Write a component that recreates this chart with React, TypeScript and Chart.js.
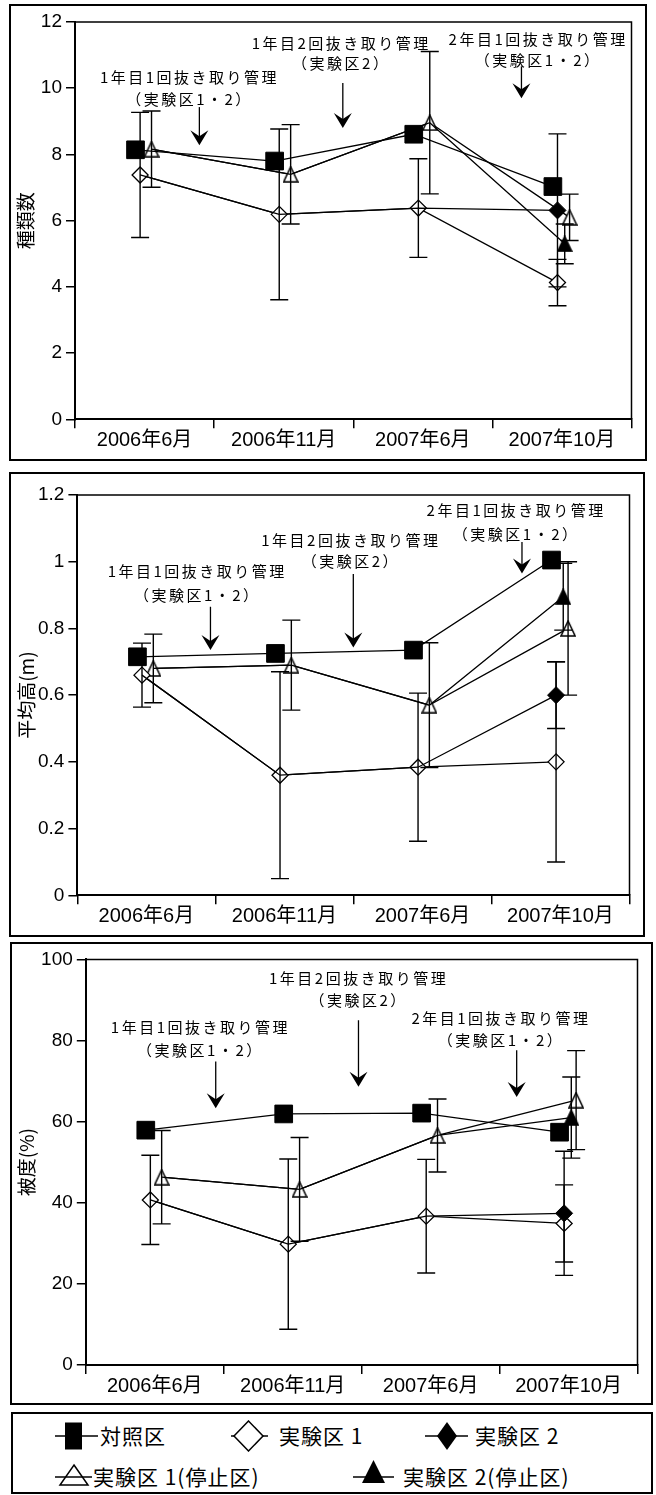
import React, { useEffect, useRef } from 'react';
import { Chart, registerables } from 'chart.js';

Chart.register(...registerables);

// ---------- data ----------
const CATEGORIES = ['2006年6月', '2006年11月', '2007年6月', '2007年10月'];
const SERIES_LABELS = ['対照区', '実験区 1', '実験区 2', '実験区 1(停止区)', '実験区 2(停止区)'];

// 種類数
const SPECIES_CONTROL = [8.14, 7.8, 8.61, 7.03];
const SPECIES_EXP1 = [7.38, 6.19, 6.38, 4.13];
const SPECIES_EXP1_ERR = [1.89, 2.58, 1.49, 0.7];
const SPECIES_EXP2 = [7.38, 6.19, 6.38, 6.31];
const SPECIES_EXP2_ERR = [null, null, null, 2.31];
const SPECIES_STOP1 = [8.16, 7.4, 8.96, 6.1];
const SPECIES_STOP1_ERR = [1.15, 1.5, 2.15, 0.7];
const SPECIES_STOP2 = [8.16, 7.4, 8.96, 5.3];
const SPECIES_STOP2_ERR = [null, null, null, 0.6];
const SPECIES_Y_TICKS = [0, 2, 4, 6, 8, 10, 12];
const SPECIES_Y_LABELS = ['0', '2', '4', '6', '8', '10', '12'];

// 平均高(m)
const HEIGHT_CONTROL = [0.715, 0.725, 0.735, 1.005];
const HEIGHT_EXP1 = [0.66, 0.36, 0.384, 0.4];
const HEIGHT_EXP1_ERR = [0.096, 0.31, 0.222, 0.3];
const HEIGHT_EXP2 = [0.66, 0.36, 0.384, 0.6];
const HEIGHT_EXP2_ERR = [null, null, null, 0.1];
const HEIGHT_STOP1 = [0.68, 0.69, 0.57, 0.8];
const HEIGHT_STOP1_ERR = [0.103, 0.135, 0.187, 0.2];
const HEIGHT_STOP2 = [0.68, 0.69, 0.57, 0.895];
const HEIGHT_STOP2_ERR = [null, null, null, 0.1];
const HEIGHT_Y_TICKS = [0, 0.2, 0.4, 0.6, 0.8, 1, 1.2];
const HEIGHT_Y_LABELS = ['0', '0.2', '0.4', '0.6', '0.8', '1', '1.2'];

// 被度(%)
const COVER_CONTROL = [57.9, 61.9, 62.1, 57.4];
const COVER_EXP1 = [40.7, 29.8, 36.7, 34.9];
const COVER_EXP1_ERR = [11, 21, 14, 9.5];
const COVER_EXP2 = [40.7, 29.8, 36.7, 37.4];
const COVER_EXP2_ERR = [null, null, null, 15.3];
const COVER_STOP1 = [46.3, 43.3, 56.6, 65.3];
const COVER_STOP1_ERR = [11.5, 12.8, 9, 12.2];
const COVER_STOP2 = [46.3, 43.3, 56.6, 61.0];
const COVER_STOP2_ERR = [null, null, null, 10];
const COVER_Y_TICKS = [0, 20, 40, 60, 80, 100];
const COVER_Y_LABELS = ['0', '20', '40', '60', '80', '100'];

const NOTE_TEXTS = [
  ['1年目1回抜き取り管理', '（実験区1・2）'],
  ['1年目2回抜き取り管理', '（実験区2）'],
  ['2年目1回抜き取り管理', '（実験区1・2）'],
];

// ---------- placement / style (not data) ----------
// offset of each series inside its category band (category units)
const SERIES_OFFSETS = [
  [-0.065, -0.065, -0.065, -0.065],
  [-0.032, -0.032, -0.032, -0.032],
  [-0.032, -0.032, -0.032, -0.032],
  [0.05, 0.05, 0.05, 0.055],
  [0.05, 0.05, 0.05, 0.02],
];
const DRAW_ORDER = [0, 3, 1, 4, 2];

const SPECIES_NOTES_POS = [
  { x: 0.823, y1: 10.34, y2: 9.67, ax: 0.894, top: 9.43, tip: 8.28 },
  { x: 1.914, y1: 11.37, y2: 10.76, ax: 1.925, top: 10.16, tip: 8.8 },
  { x: 3.329, y1: 11.49, y2: 10.85, ax: 3.209, top: 10.66, tip: 9.7 },
];
const HEIGHT_NOTES_POS = [
  { x: 0.868, y1: 0.97, y2: 0.9, ax: 0.964, top: 0.865, tip: 0.735 },
  { x: 1.981, y1: 1.065, y2: 1.0, ax: 1.999, top: 0.963, tip: 0.743 },
  { x: 3.179, y1: 1.153, y2: 1.083, ax: 3.221, top: 1.059, tip: 0.965 },
];
const COVER_NOTES_POS = [
  { x: 0.831, y1: 83.2, y2: 77.6, ax: 0.942, top: 74.8, tip: 63.3 },
  { x: 1.978, y1: 95.3, y2: 89.8, ax: 1.977, top: 85.0, tip: 68.6 },
  { x: 3.01, y1: 85.5, y2: 80.1, ax: 3.124, top: 77.6, tip: 66.1 },
];

const FONT = '"Liberation Sans", "Noto Sans CJK JP", sans-serif';
const CJK = '"Noto Sans CJK JP", sans-serif';

type Series = { values: number[]; errors: (number | null)[] };
interface PanelCfg {
  box: { left: number; top: number; width: number; height: number };
  pad: { left: number; top: number; right: number; bottom: number };
  yWidth: number;
  xHeight: number;
  yTitle: string;
  yMax: number;
  yTicks: number[];
  yLabels: string[];
  series: Series[];
  notes: { x: number; y1: number; y2: number; ax: number; top: number; tip: number }[];
}

const PANELS: PanelCfg[] = [
  {
    box: { left: 9, top: 4, width: 638, height: 457 },
    pad: { left: 3.6, top: 16, right: 1.7, bottom: 4.7 },
    yWidth: 60.4,
    xHeight: 35,
    yTitle: '種類数',
    yMax: 12,
    yTicks: SPECIES_Y_TICKS,
    yLabels: SPECIES_Y_LABELS,
    series: [
      { values: SPECIES_CONTROL, errors: [null, null, null, null] },
      { values: SPECIES_EXP1, errors: SPECIES_EXP1_ERR },
      { values: SPECIES_EXP2, errors: SPECIES_EXP2_ERR },
      { values: SPECIES_STOP1, errors: SPECIES_STOP1_ERR },
      { values: SPECIES_STOP2, errors: SPECIES_STOP2_ERR },
    ],
    notes: SPECIES_NOTES_POS,
  },
  {
    box: { left: 9, top: 472, width: 636, height: 465 },
    pad: { left: 4.6, top: 21, right: 11.2, bottom: 4.7 },
    yWidth: 61.8,
    xHeight: 35,
    yTitle: '平均高(m)',
    yMax: 1.2,
    yTicks: HEIGHT_Y_TICKS,
    yLabels: HEIGHT_Y_LABELS,
    series: [
      { values: HEIGHT_CONTROL, errors: [null, null, null, null] },
      { values: HEIGHT_EXP1, errors: HEIGHT_EXP1_ERR },
      { values: HEIGHT_EXP2, errors: HEIGHT_EXP2_ERR },
      { values: HEIGHT_STOP1, errors: HEIGHT_STOP1_ERR },
      { values: HEIGHT_STOP2, errors: HEIGHT_STOP2_ERR },
    ],
    notes: HEIGHT_NOTES_POS,
  },
  {
    box: { left: 10, top: 942, width: 643, height: 463 },
    pad: { left: 3.6, top: 15.3, right: 10.8, bottom: 4 },
    yWidth: 70.2,
    xHeight: 34,
    yTitle: '被度(%)',
    yMax: 100,
    yTicks: COVER_Y_TICKS,
    yLabels: COVER_Y_LABELS,
    series: [
      { values: COVER_CONTROL, errors: [null, null, null, null] },
      { values: COVER_EXP1, errors: COVER_EXP1_ERR },
      { values: COVER_EXP2, errors: COVER_EXP2_ERR },
      { values: COVER_STOP1, errors: COVER_STOP1_ERR },
      { values: COVER_STOP2, errors: COVER_STOP2_ERR },
    ],
    notes: COVER_NOTES_POS,
  },
];

function makeTriangle(filled: boolean) {
  const c = document.createElement('canvas');
  c.width = 16;
  c.height = 17;
  const g = c.getContext('2d')!;
  g.beginPath();
  g.moveTo(8, 1);
  g.lineTo(15, 16);
  g.lineTo(1, 16);
  g.closePath();
  g.fillStyle = filled ? '#000' : '#fff';
  g.fill();
  g.lineWidth = 1.5;
  g.lineJoin = 'miter';
  g.strokeStyle = '#000';
  g.stroke();
  return c;
}

function Panel({ cfg }: { cfg: PanelCfg }) {
  const ref = useRef<HTMLCanvasElement>(null);
  useEffect(() => {
    const canvas = ref.current!;
    const openTri = makeTriangle(false);
    const filledTri = makeTriangle(true);
    const pointOpts: any[] = [
      { pointStyle: 'rect', pointRadius: 12.5, pointBackgroundColor: '#000', pointBorderColor: '#000', pointBorderWidth: 1 },
      { pointStyle: 'rectRot', pointRadius: 8, pointBackgroundColor: '#fff', pointBorderColor: '#000', pointBorderWidth: 1.3 },
      { pointStyle: 'rectRot', pointRadius: [0, 0, 0, 8.5], pointBackgroundColor: '#000', pointBorderColor: '#000', pointBorderWidth: 1 },
      { pointStyle: openTri, pointRadius: 7 },
      { pointStyle: filledTri, pointRadius: [0, 0, 0, 7] },
    ];
    const datasets = cfg.series.map((s, si) => ({
      label: SERIES_LABELS[si],
      data: s.values.map((v, i) => ({ x: i + 0.5 + SERIES_OFFSETS[si][i], y: v })),
      errors: s.errors,
      xAxisID: 'xl',
      yAxisID: 'y',
      borderColor: '#000',
      borderWidth: 1.3,
      tension: 0,
      fill: false,
      pointHoverRadius: 0,
      order: DRAW_ORDER[si],
      ...pointOpts[si],
    }));

    const framePlugin = {
      id: 'frame',
      beforeDatasetsDraw(chart: any) {
        const { ctx, chartArea: a } = chart;
        ctx.save();
        ctx.strokeStyle = '#000';
        ctx.lineWidth = 1.5;
        ctx.beginPath();
        ctx.moveTo(a.left, a.top);
        ctx.lineTo(a.right, a.top);
        ctx.lineTo(a.right, a.bottom);
        ctx.stroke();
        ctx.restore();
      },
    };

    const errorPlugin = {
      id: 'errorBars',
      afterDatasetsDraw(chart: any) {
        const { ctx } = chart;
        const ys = chart.scales.y;
        ctx.save();
        ctx.strokeStyle = '#000';
        ctx.lineWidth = 1.4;
        chart.data.datasets.forEach((ds: any, di: number) => {
          const meta = chart.getDatasetMeta(di);
          (ds.errors || []).forEach((e: number | null, i: number) => {
            if (e == null) return;
            const v = ds.data[i].y;
            const x = meta.data[i].x;
            const yt = ys.getPixelForValue(v + e);
            const yb = ys.getPixelForValue(v - e);
            ctx.beginPath();
            ctx.moveTo(x, yt);
            ctx.lineTo(x, yb);
            ctx.moveTo(x - 9, yt);
            ctx.lineTo(x + 9, yt);
            ctx.moveTo(x - 9, yb);
            ctx.lineTo(x + 9, yb);
            ctx.stroke();
          });
        });
        ctx.restore();
      },
    };

    const notesPlugin = {
      id: 'notes',
      afterDraw(chart: any) {
        const { ctx } = chart;
        const xs = chart.scales.xl;
        const ys = chart.scales.y;
        ctx.save();
        ctx.fillStyle = '#000';
        ctx.strokeStyle = '#000';
        cfg.notes.forEach((n, k) => {
          ctx.font = `15px ${CJK}`;
          ctx.textAlign = 'center';
          ctx.textBaseline = 'middle';
          (ctx as any).letterSpacing = '2.5px';
          const tx = xs.getPixelForValue(n.x);
          ctx.fillText(NOTE_TEXTS[k][0], tx, ys.getPixelForValue(n.y1));
          ctx.fillText(NOTE_TEXTS[k][1], tx, ys.getPixelForValue(n.y2));
          (ctx as any).letterSpacing = '0px';
          const ax = xs.getPixelForValue(n.ax);
          const top = ys.getPixelForValue(n.top);
          const tip = ys.getPixelForValue(n.tip);
          ctx.lineWidth = 1.3;
          ctx.beginPath();
          ctx.moveTo(ax, top);
          ctx.lineTo(ax, tip - 8);
          ctx.stroke();
          ctx.beginPath();
          ctx.moveTo(ax, tip);
          ctx.lineTo(ax - 9, tip - 15);
          ctx.lineTo(ax, tip - 9);
          ctx.lineTo(ax + 9, tip - 15);
          ctx.closePath();
          ctx.fill();
        });
        ctx.restore();
      },
    };

    const chart = new Chart(canvas, {
      type: 'line',
      data: { labels: CATEGORIES, datasets: datasets as any },
      options: {
        animation: false,
        responsive: false,
        maintainAspectRatio: false,
        events: [],
        layout: { padding: cfg.pad },
        plugins: { legend: { display: false }, tooltip: { enabled: false } },
        scales: {
          x: {
            type: 'category',
            labels: CATEGORIES,
            position: 'bottom',
            offset: true,
            grid: { offset: true, drawOnChartArea: false, drawTicks: true, tickLength: 9, color: '#000', lineWidth: 1.5 },
            border: { display: true, color: '#000', width: 2 },
            ticks: { color: '#000', font: { family: FONT, size: 20 }, padding: 0, maxRotation: 0, minRotation: 0, autoSkip: false },
            afterFit: (s: any) => { s.height = cfg.xHeight; },
          },
          xl: { type: 'linear', display: false, min: 0, max: 4 },
          y: {
            type: 'linear',
            position: 'left',
            min: 0,
            max: cfg.yMax,
            afterBuildTicks: (s: any) => { s.ticks = cfg.yTicks.map((v) => ({ value: v })); },
            ticks: {
              color: '#000',
              font: { family: FONT, size: 19 },
              padding: 4,
              callback: (_v: any, i: number) => cfg.yLabels[i],
            },
            grid: { drawOnChartArea: false, drawTicks: true, tickLength: 9, color: '#000', lineWidth: 1.5 },
            border: { display: true, color: '#000', width: 2 },
            title: { display: true, text: cfg.yTitle, color: '#000', font: { family: CJK, size: 19 }, padding: 0 },
            afterFit: (s: any) => { s.width = cfg.yWidth; },
          },
        } as any,
      },
      plugins: [framePlugin, errorPlugin, notesPlugin],
    });
    return () => chart.destroy();
  }, [cfg]);

  const { box } = cfg;
  return (
    <div
      style={{
        position: 'absolute',
        left: box.left,
        top: box.top,
        width: box.width,
        height: box.height,
        border: '2px solid #000',
        boxSizing: 'border-box',
        background: '#fff',
      }}
    >
      <canvas ref={ref} width={box.width - 4} height={box.height - 4} style={{ display: 'block' }} />
    </div>
  );
}

const legendText: React.CSSProperties = {
  position: 'absolute',
  fontFamily: CJK,
  fontSize: 21,
  lineHeight: '26px',
  letterSpacing: '1px',
  whiteSpace: 'pre',
  color: '#000',
};

function Legend() {
  return (
    <div
      style={{
        position: 'absolute',
        left: 11,
        top: 1412,
        width: 642,
        height: 82,
        border: '2px solid #000',
        boxSizing: 'border-box',
        background: '#fff',
      }}
    >
      <svg style={{ position: 'absolute', left: 42, top: 7 }} width={43} height={30}>
        <line x1={0} y1={15} x2={43} y2={15} stroke="#000" strokeWidth={1.5} />
        <rect x={10} y={1.5} width={17} height={27} fill="#000" />
      </svg>
      <span style={{ ...legendText, left: 87, top: 21 - 13 }}>{SERIES_LABELS[0]}</span>

      <svg style={{ position: 'absolute', left: 218, top: 6 }} width={37} height={32}>
        <line x1={0} y1={16} x2={37} y2={16} stroke="#000" strokeWidth={1.5} />
        <polygon points="17.5,1 32,16 17.5,31 3,16" fill="#fff" stroke="#000" strokeWidth={1.5} />
      </svg>
      <span style={{ ...legendText, left: 266, top: 21 - 13 }}>{SERIES_LABELS[1]}</span>

      <svg style={{ position: 'absolute', left: 412, top: 7 }} width={43} height={30}>
        <line x1={0} y1={15} x2={43} y2={15} stroke="#000" strokeWidth={1.5} />
        <polygon points="22,1 32,15 22,29 12,15" fill="#000" />
      </svg>
      <span style={{ ...legendText, left: 462, top: 21 - 13 }}>{SERIES_LABELS[2]}</span>

      <svg style={{ position: 'absolute', left: 42, top: 49 }} width={37} height={24}>
        <polygon points="19,2 33,22 5,22" fill="#fff" stroke="#000" strokeWidth={1.5} />
        <line x1={0} y1={14} x2={37} y2={14} stroke="#000" strokeWidth={1.5} />
      </svg>
      <span style={{ ...legendText, left: 80, top: 62 - 13 }}>{SERIES_LABELS[3]}</span>

      <svg style={{ position: 'absolute', left: 340, top: 44 }} width={41} height={27}>
        <line x1={0} y1={19} x2={41} y2={19} stroke="#000" strokeWidth={1.5} />
        <polygon points="20.5,2 32,25 9,25" fill="#000" />
      </svg>
      <span style={{ ...legendText, left: 390, top: 62 - 13 }}>{SERIES_LABELS[4]}</span>
    </div>
  );
}

export default function App() {
  return (
    <div style={{ position: 'absolute', left: 0, top: 0, width: 656, height: 1495, background: '#fff' }}>
      {PANELS.map((p, i) => (
        <Panel key={i} cfg={p} />
      ))}
      <Legend />
    </div>
  );
}
